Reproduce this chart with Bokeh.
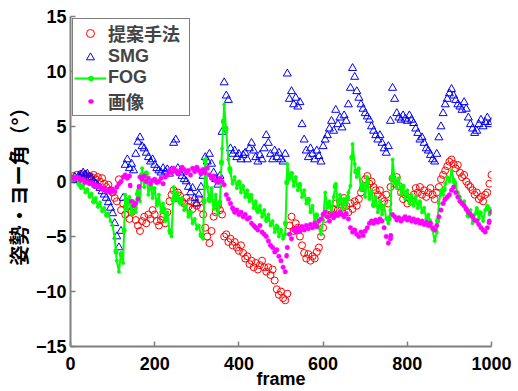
from bokeh.plotting import figure
from bokeh.models import Range1d, FixedTicker
from bokeh.embed import file_html
from bokeh.resources import INLINE

# frame numbers (every 5th frame)
frames = list(range(0, 1001, 5))

proposed = [
    0.3, 0.5, 0.2, 0.6, 0.4, 0.7, 0.5, 0.6, 0.3, 0.5,
    0.4, 0.6, 0.2, 0.4, 0.0, 0.3, -0.2, -0.5, -0.3, -0.8,
    -1.0, -1.5, -1.8, 0.2, -2.6, -2.0, -3.0, -2.2, -3.4, -2.8,
    -2.4, -3.5, -4.0, -4.5, -3.6, -3.2, -3.8, -3.0, -3.4, -2.6,
    -3.0, -3.6, -4.0, -3.5, -3.2, -3.8, -2.8, -1.8, -1.2, -0.8,
    -1.5, -1.0, -1.3, -1.8, -2.0, -1.5, -2.3, -1.8, -2.5, -2.0,
    -2.2, -1.6, -2.4, -3.0, -4.2, -5.0, -5.6, -4.5, -3.2, -2.8,
    -2.2, -2.6, -3.0, -5.0, -4.8, -5.5, -5.2, -5.8, -5.5, -6.0,
    -6.3, -5.8, -6.5, -7.0, -6.8, -7.5, -7.2, -7.8, -7.4, -8.0,
    -7.6, -7.2, -7.8, -8.2, -7.8, -8.5, -8.0, -9.0, -9.8, -10.3,
    -10.0, -10.6, -10.8, -10.2, -4.0, -3.2, -4.5, -3.8, -4.2, -5.0,
    -5.8, -6.5, -7.0, -6.6, -7.2, -6.8, -7.0, -6.4, -6.0, -5.0,
    -4.2, -3.4, -3.0, -2.6, -3.0, -2.5, -2.0, -2.6, -1.8, -2.4,
    -1.5, -2.2, -2.8, -2.0, -2.5, -1.8, -2.2, -1.6, -1.0, -0.6,
    0.2, 0.5, -0.2, 0.0, -0.5, -0.8, -1.2, -0.8, -1.5, -1.8,
    -1.2, -2.0, -0.5, 0.3, -0.2, 0.4, -0.4, -1.0, -1.6, -1.2,
    -2.0, -1.5, -1.8, -1.2, -0.6, -1.0, -0.5, -1.2, -0.8, -1.4,
    -1.0, -0.6, -1.2, -1.6, -1.0, -0.5, 0.2, 0.6, 1.0, 1.4,
    1.8, 2.0, 1.6, 1.2, 1.5, 0.8, 0.4, 0.6, 0.0, -0.3,
    -0.5, -0.8, -1.2, -1.0, -1.6, -1.4, -1.8, -1.2, -1.0, -0.2,
    0.6,
]

smg = [
    0.3, 0.1, 0.4, 0.2, 0.5, 0.6, 0.8, 0.6, 0.7, 0.4,
    0.3, 0.0, -0.2, -0.4, -0.6, -0.9, -1.2, -1.5, -1.9, -2.4,
    -2.9, -3.8, -5.0, -6.0, -4.5, -1.5, 1.5, 2.0, 1.2, 1.6,
    1.0, 2.5, 3.6, 4.0, 3.2, 3.0, 2.6, 2.2, 1.8, 2.0,
    1.5, 1.2, 1.0, 0.8, 1.2, 0.9, 1.1, 0.7, 1.0, 3.5,
    3.8, 1.2, 0.8, 0.5, 0.2, 0.0, -0.5, -1.0, -0.6, -1.5,
    -2.0, -1.2, -0.5, 0.5, 2.2, 1.8, 2.5, 1.6, 0.8, 0.2,
    -0.3, 0.5, 4.5, 9.0, 7.8, 7.4, 3.0, 2.5, 2.8, 2.2,
    2.5, 2.0, 2.4, 2.6, 2.0, 3.0, 3.5, 2.8, 2.2, 1.8,
    2.4, 2.0, 3.0, 4.2, 3.5, 2.5, 2.0, 2.8, 2.2, 2.6,
    2.0, 1.8, 2.5, 9.8, 7.5, 8.2, 7.0, 7.6, 6.8, 7.2,
    5.2, 3.8, 2.8, 2.2, 3.0, 2.5, 2.0, 2.8, 2.3, 1.8,
    3.2, 3.8, 4.2, 4.8, 5.5, 4.6, 6.5, 5.2, 5.8, 4.9,
    6.0, 5.5, 7.0, 8.5, 10.3, 9.5, 8.2, 7.6, 7.0, 6.6,
    6.2, 5.9, 5.6, 5.0, 4.6, 4.2, 3.8, 4.2, 3.5, 3.0,
    2.6, 3.2, 5.5, 8.5, 7.5, 6.2, 5.8, 5.6, 6.0, 5.7,
    5.5, 6.0, 5.6, 5.3, 4.8, 4.4, 3.8, 4.0, 3.5, 3.0,
    2.8, 2.4, 2.0, 1.8, 2.5, 4.0, 5.0, 6.2, 7.0, 7.5,
    8.0, 8.4, 7.8, 7.4, 7.0, 6.8, 6.5, 7.2, 6.6, 5.8,
    5.2, 4.8, 4.4, 4.6, 5.2, 5.6, 5.0, 5.4, 5.8, 5.2,
    5.4,
]

fog = [
    0.4, 0.2, 0.5, 0.3, -0.2, -0.6, -0.3, -1.0, -0.7, -1.4,
    -1.1, -1.9, -1.5, -2.3, -1.9, -2.7, -2.4, -3.1, -2.9, -3.6,
    -4.0, -5.2, -7.2, -8.2, -6.5, -7.4, -1.2, -2.5, -1.4, -3.0,
    -1.8, -2.8, -0.8, -1.8, 1.2, -0.5, 0.8, -1.2, 0.0, -1.5,
    -0.6, -2.2, -1.2, -2.8, -2.0, -3.6, -2.8, -4.4, -5.0, -0.5,
    -1.6, -1.0, -2.0, -1.5, -2.6, -2.2, -3.2, -2.8, -3.8, -3.4,
    -4.3, -4.0, -4.9, -5.2, 2.0, -0.5, -1.8, -0.6, -2.5, -1.2,
    -3.0, -1.8, 3.0, 7.0, 4.5, 2.0, 0.8, -0.2, 0.4, -0.6,
    0.0, -1.0, -0.4, -1.4, -0.8, -1.8, -1.2, -2.4, -1.8, -2.8,
    -2.2, -3.2, -2.6, -3.6, -3.0, -4.0, -3.6, -4.6, -4.0, -5.0,
    -4.4, -5.2, -4.8, 1.6, 0.2, 0.8, -0.4, 0.4, -0.8, -0.2,
    -1.4, -0.8, -2.0, -1.6, -2.8, -2.2, -3.6, -3.0, -4.2, -4.8,
    -3.5, -1.0, -2.4, -1.8, -2.8, -1.4, -0.2, -2.2, -1.2, -2.6,
    -1.6, -2.4, -1.0, -0.4, 3.4, 1.6, 0.4, 1.2, -0.8, -0.2,
    -1.4, 0.4, -1.6, -0.8, -2.2, -1.4, -2.8, -1.8, -3.0, -2.2,
    -3.4, -3.8, -2.6, 2.0, 0.2, -0.6, 0.3, -1.2, -0.4, -1.6,
    -0.8, -2.0, -1.2, -2.2, -1.4, -2.4, -1.8, -2.8, -2.4, -3.4,
    -3.0, -4.0, -4.4, -5.4, -4.6, -2.0, -0.8, -1.2, -0.2, 0.4,
    0.0, 1.0, 0.2, -0.4, -1.0, -1.4, -2.0, -1.8, -2.6, -3.2,
    -2.6, -3.8, -3.0, -2.4, -3.4, -2.8, -3.6, -2.6, -2.2, -3.0,
    -2.5,
]

image = [
    0.3, 0.4, 0.2, 0.4, 0.3, 0.1, 0.2, -0.1, 0.0, -0.2,
    -0.1, -0.4, -0.3, -0.5, -0.4, -0.7, -0.6, -0.9, -0.8, -1.0,
    -0.7, -0.9, -0.5, -0.2, 0.0, 0.4, 0.6, 0.3, 0.5, -1.8,
    -2.2, -2.0, -1.6, 0.4, 0.2, 0.5, 0.0, 0.3, -0.2, 0.1,
    0.2, -0.1, 0.0, 0.3, -0.2, 0.4, 0.6, 1.0, 0.8, 1.2,
    1.0, 0.7, 0.9, 1.3, 1.1, 0.8, 1.0, 0.6, 1.2, 0.9,
    1.3, 1.0, 0.7, 1.1, 0.8, 1.2, 0.6, 0.3, 0.5, 0.1,
    -0.1, 0.3, 0.0, -0.3, -1.2, -1.6, -2.0, -2.4, -2.8, -2.6,
    -3.0, -2.8, -3.2, -3.0, -3.4, -3.3, -3.8, -4.0, -4.2, -4.4,
    -4.0, -4.6, -4.8, -5.0, -5.4, -5.8, -6.0, -6.4, -6.2, -6.8,
    -7.2, -7.8, -8.2, -6.0, -4.8, -5.2, -4.4, -4.6, -4.2, -4.5,
    -4.1, -4.4, -4.0, -4.3, -3.9, -4.2, -3.8, -4.1, -3.6, -3.4,
    -3.0, -2.8, -3.2, -3.6, -3.0, -3.3, -2.9, -3.1, -2.8, -3.0,
    -3.2, -2.9, -3.4, -4.2, -4.6, -4.4, -4.8, -5.0, -4.6, -4.9,
    -4.5, -4.2, -3.8, -3.6, -3.8, -3.5, -3.7, -3.4, -3.6, -4.2,
    -5.0, -5.6, -5.2, -3.0, -3.2, -3.5, -3.3, -3.6, -3.4, -3.2,
    -3.5, -3.3, -3.6, -3.4, -3.7, -3.5, -3.8, -3.6, -3.9, -3.7,
    -4.0, -3.8, -4.2, -4.4, -4.0, -3.2, -2.6, -2.0, -1.6, -1.4,
    -1.2, -0.8, -0.5, -1.0, -1.4, -1.8, -2.0, -2.2, -2.5, -2.8,
    -3.0, -3.2, -3.5, -3.6, -3.9, -4.2, -4.4, -4.6, -4.2, -3.6,
    -2.8,
]

x_ticks = [0, 200, 400, 600, 800, 1000]
y_ticks = [-15, -10, -5, 0, 5, 10, 15]

FONT = "'Liberation Sans', 'Noto Sans CJK JP'"
AXIS_GRAY = "#7f7f7f"
RED, BLUE, GREEN, MAGENTA = "#ff0000", "#0000ff", "#00ff00", "#ff00ff"

p = figure(
    width=518, height=391,
    output_backend="svg", toolbar_location=None,
    x_range=Range1d(0, 1000), y_range=Range1d(-15, 15),
    min_border_left=70, min_border_right=27,
    min_border_top=16, min_border_bottom=44,
)
p.outline_line_color = None
p.grid.visible = False
p.background_fill_color = "white"
p.border_fill_color = "white"

p.scatter(frames, proposed, marker="circle", size=7, fill_color=None,
          line_color=RED, line_width=1, legend_label="提案手法")
p.scatter(frames, smg, marker="triangle", size=8, fill_color=None,
          line_color=BLUE, line_width=1, legend_label="SMG")
p.line(frames, fog, line_color=GREEN, line_width=2, legend_label="FOG")
p.scatter(frames, fog, marker="circle", size=3, fill_color=GREEN,
          line_color=GREEN)
# dotted overlay along the FOG trace; gives the legend key its centre dot
p.line(frames, fog, line_color=GREEN, line_width=5, line_cap="round",
       line_dash="1 40", line_dash_offset=25, legend_label="FOG")
p.scatter(frames, image, marker="circle", size=4.5, fill_color=MAGENTA,
          line_color=MAGENTA, line_width=0.5)
# dotted overlay along the image trace; gives the legend key a small dot
p.line(frames, image, line_color=MAGENTA, line_width=4.5, line_cap="round",
       line_dash="1 40", line_dash_offset=25, legend_label="画像")

for ax in (p.xaxis[0], p.yaxis[0]):
    ax.axis_line_color = AXIS_GRAY
    ax.axis_line_width = 2
    ax.major_tick_line_color = AXIS_GRAY
    ax.major_tick_line_width = 1.5
    ax.major_tick_in = 5
    ax.major_tick_out = 0
    ax.minor_tick_line_color = None
    ax.major_label_text_font = FONT
    ax.major_label_text_font_style = "bold"
    ax.major_label_text_font_size = "18px"
    ax.major_label_text_color = "black"
    ax.axis_label_text_font_style = "bold"
    ax.axis_label_text_color = "black"

p.xaxis.ticker = FixedTicker(ticks=x_ticks)
p.yaxis.ticker = FixedTicker(ticks=y_ticks)
p.xaxis.axis_label = "frame"
p.xaxis.axis_label_text_font = FONT
p.xaxis.axis_label_text_font_size = "18px"
p.xaxis.major_label_standoff = 10
p.xaxis.axis_label_standoff = -4
p.yaxis.axis_label = "姿勢・ヨー角（°）"
p.yaxis.axis_label_text_font = "'Noto Sans CJK JP'"
p.yaxis.axis_label_text_font_size = "20px"
p.yaxis.major_label_standoff = 4
p.yaxis.axis_label_standoff = 0

lg = p.legend[0]
lg.location = "top_left"
lg.margin = 2
lg.padding = 1
lg.spacing = 0
lg.glyph_width = 32
lg.glyph_height = 20
lg.label_height = 20
lg.label_width = 80
lg.label_standoff = 2
lg.label_text_font = FONT
lg.label_text_font_style = "bold"
lg.label_text_font_size = "18px"
lg.label_text_line_height = 1.0
lg.border_line_color = "black"
lg.border_line_width = 1
lg.background_fill_color = "white"
lg.background_fill_alpha = 1.0

open("out.html", "w").write(file_html(p, INLINE))
